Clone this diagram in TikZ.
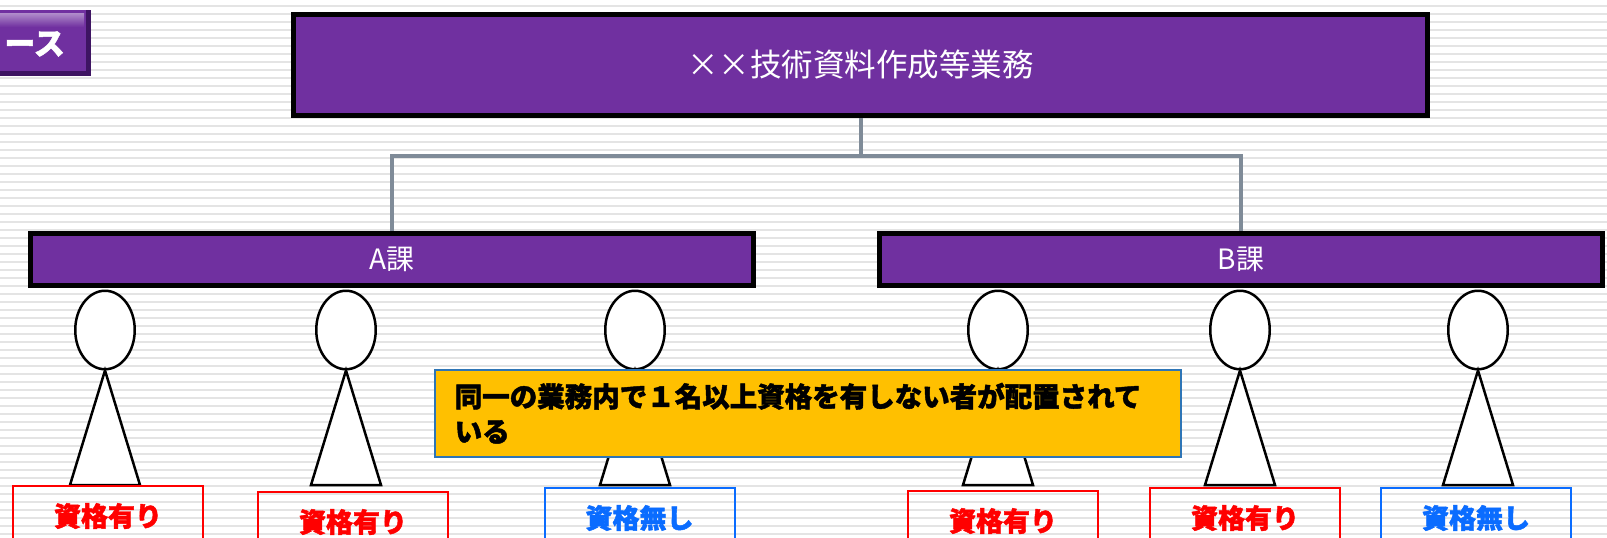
\documentclass[tikz,border=0pt]{standalone}
\usepackage{fontspec}
\usetikzlibrary{shapes.geometric}
\newfontfamily\jpfont[BoldFeatures={FakeBold=1.6}]{Noto Sans CJK JP}
\definecolor{kpurple}{HTML}{7030A0}
\definecolor{kdark}{HTML}{3E1462}
\definecolor{kgray}{HTML}{7F8B98}
\definecolor{kred}{HTML}{FF0000}
\definecolor{kblue}{HTML}{0A6CFF}
\definecolor{kyellow}{HTML}{FFC000}
\definecolor{kyborder}{HTML}{2E75B6}
\definecolor{stripe}{HTML}{E4E4E4}

\begin{document}
\begin{tikzpicture}[x=1pt, y=-1pt,
	unitbox/.style={draw=black, line width=5pt, fill=kpurple, text=white, inner sep=0pt, font=\jpfont\fontsize{28}{28}\selectfont},
	wire/.style={draw=kgray, line width=4pt},
	head/.style={ellipse, draw=black, line width=2.5pt, fill=white, minimum width=59.5pt, minimum height=78.5pt, inner sep=0pt},
	body/.style={draw=black, line width=2.5pt, fill=white},
	tag/.style={line width=2pt, minimum width=190pt, minimum height=60pt, inner sep=0pt, font=\jpfont\bfseries\fontsize{27}{27}\selectfont},
	ok/.style={tag, draw=kred, text=kred},
	ng/.style={tag, draw=kblue, text=kblue}]
	\useasboundingbox (0,0) rectangle (1607,538);
	\fill[white] (0,0) rectangle (1607,538);
	\foreach \y in {5,13,...,533}
		\fill[stripe] (0,\y) rectangle (1607,\y+2);

	% title tab, cut off at the left
	\fill[kdark] (-5,10) rectangle (91,76);
	\fill[kpurple] (-5,10) rectangle (86,71);
	\shade[top color=kpurple!55!white, bottom color=kpurple] (-5,13) rectangle (84,27);
	\node[anchor=east, inner sep=0pt, text=white, font=\jpfont\bfseries\fontsize{31}{31}\selectfont] (tab) at (65,44) {ース};

	\node[unitbox, minimum width=1134pt, minimum height=101pt, font=\jpfont\fontsize{31.5}{31.5}\selectfont] (task) at (860.5,65) {××技術資料作成等業務};
	\node[unitbox, minimum width=723pt, minimum height=52pt] (secA) at (392,259.5) {A課};
	\node[unitbox, minimum width=723pt, minimum height=52pt] (secB) at (1241,259.5) {B課};

	\draw[wire] (task.south) -- ++(0,38) coordinate (fork);
	\draw[wire] (secA.north) |- (fork) -| (secB.north);

	\foreach \x [count=\n] in {105, 346, 635, 998, 1240, 1478} {
		\node[head] (head\n) at (\x,330) {};
		\filldraw[body] (head\n.south) -- (\x-35,485) -- (\x+35,485) -- cycle;
	}

	\foreach \x/\y/\s/\t [count=\n] in {108/485/ok/資格有り, 353/491/ok/資格有り, 639.5/487/ng/資格無し, 1003/490/ok/資格有り, 1245/487/ok/資格有り, 1476/487/ng/資格無し}
		\node[\s, anchor=north] (tag\n) at (\x,\y) {\t};

	\node[anchor=north west, fill=kyellow, draw=kyborder, line width=1.5pt, text width=706pt, minimum height=87pt, inner xsep=20pt, inner ysep=0pt, align=left, font=\jpfont\bfseries\fontsize{27.5}{35}\selectfont] (note) at (434,369) {同一の業務内で１名以上資格を有しない者が配置されて\\いる};
\end{tikzpicture}
\end{document}
